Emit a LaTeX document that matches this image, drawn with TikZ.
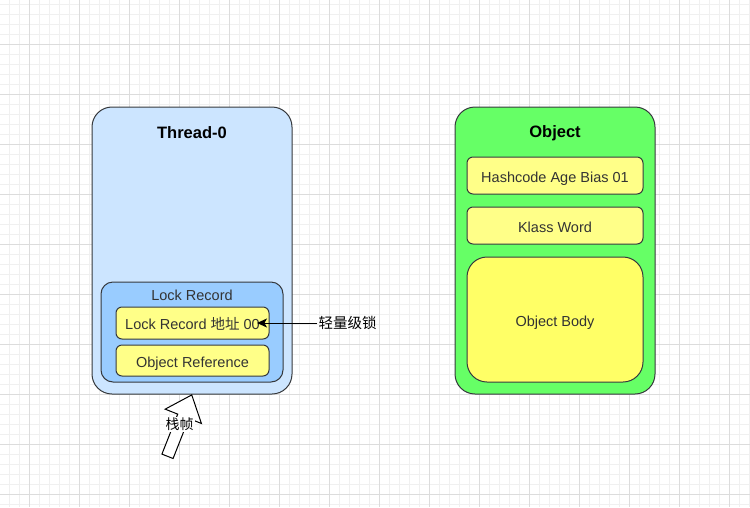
\documentclass[tikz,border=0pt]{standalone}
\usepackage{fontspec}
\setmainfont{Liberation Sans}
\newfontfamily\cjk{Noto Sans CJK SC}
\usetikzlibrary{arrows.meta}
\definecolor{threadblue}{HTML}{CCE5FF}
\definecolor{lockblue}{HTML}{99CCFF}
\definecolor{objgreen}{HTML}{66FF66}
\definecolor{cellyellow}{HTML}{FFFF88}
\definecolor{bodyyellow}{HTML}{FFFF66}
\definecolor{edgegray}{HTML}{36393D}
\definecolor{minorgrid}{HTML}{F0F0F0}
\definecolor{majorgrid}{HTML}{DCDCDC}
\definecolor{txtgray}{HTML}{333333}
\tikzset{
  frame/.style={draw=edgegray, line width=1pt, rounded corners=20pt, inner sep=0pt},
  cell/.style={draw=edgegray, line width=1pt, fill=cellyellow, rounded corners=6pt, inner sep=0pt,
    text height=13pt, text depth=0pt, text=txtgray, font=\fontsize{14.5}{17}\selectfont},
  title/.style={inner sep=0pt, font=\fontsize{16.5}{19}\selectfont\bfseries},
  plain/.style={inner sep=1pt, text=txtgray, font=\fontsize{14.5}{17}\selectfont}
}
\begin{document}
\begin{tikzpicture}[x=1pt, y=-1pt]
\useasboundingbox (0,0) rectangle (750,507);
\fill[white] (0,0) rectangle (750,507);
% grid
\foreach \gx in {9,19,...,749} \draw[minorgrid, line width=0.8pt] (\gx,0) -- (\gx,507);
\foreach \gy in {4,14,...,504} \draw[minorgrid, line width=0.8pt] (0,\gy) -- (750,\gy);
\foreach \gx in {29,79,...,729} \draw[majorgrid, line width=0.8pt] (\gx,0) -- (\gx,507);
\foreach \gy in {44,94,...,494} \draw[majorgrid, line width=0.8pt] (0,\gy) -- (750,\gy);
% thread
\node[frame, fill=threadblue, minimum width=200pt, minimum height=287pt] (thread) at (192,250.5) {};
\node[title] (threadtitle) at (192,133) {Thread-0};
\node[frame, fill=lockblue, rounded corners=12pt, minimum width=182pt, minimum height=100pt] (lockrec) at (192,332) {};
\node[plain] (lockrectitle) at (192,295) {Lock Record};
\node[cell, minimum width=153pt, minimum height=32pt] (lraddr) at (192.5,323) {Lock Record {\cjk 地址} 00};
\node[cell, minimum width=153pt, minimum height=31pt] (objref) at (192.5,360.5) {Object Reference};
% object
\node[frame, fill=objgreen, minimum width=200pt, minimum height=287pt] (object) at (555,250.5) {};
\node[title] (objtitle) at (555,133) {Object};
\node[cell, minimum width=176pt, minimum height=37pt] (hashcode) at (555,175.5) {Hashcode Age Bias 01};
\node[cell, minimum width=176pt, minimum height=37pt] (klass) at (555,225.5) {Klass Word};
\node[cell, fill=bodyyellow, rounded corners=20pt, minimum width=176pt, minimum height=125pt] (body) at (555,319.5) {Object Body};
% lightweight lock pointer
\node[inner sep=1pt, font=\fontsize{14.5}{17}\selectfont\cjk] (lightlock) at (347.5,323) {轻量级锁};
\coordinate (lrtip) at (257,323);
\draw[line width=1pt, -{Stealth[length=10pt, width=9pt, inset=2.5pt]}] (lightlock.west) -- (lrtip);
% stack frame arrow
\begin{scope}[shift={(167.5,456.3)}, rotate=68.45]
\draw[line width=1pt, fill=white] (0,-6) -- (43,-6) -- (43,-19.5) -- (66,0) -- (43,19.5) -- (43,6) -- (0,6) -- cycle;
\end{scope}
\node[fill=white, inner sep=1pt, font=\fontsize{14}{16}\selectfont\cjk] (stackframe) at (179.5,424.5) {栈帧};
\end{tikzpicture}
\end{document}
